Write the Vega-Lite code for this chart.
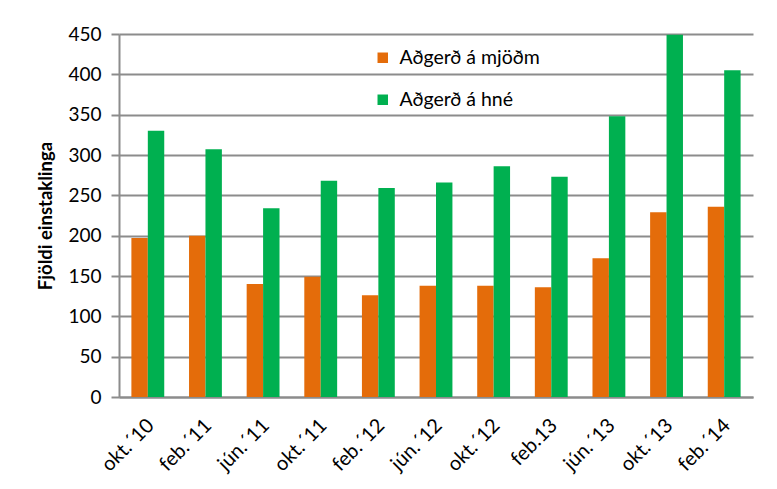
{
  "$schema": "https://vega.github.io/schema/vega-lite/v6.json",
  "width": 634,
  "height": 363,
  "autosize": "none",
  "padding": {"left": 119, "top": 34, "right": 24, "bottom": 92},
  "background": "white",
  "config": {"font": "Lato", "view": {"stroke": null}},
  "data": {
    "values": [
      {"dags": "okt.´10", "flokkur": "Aðgerð á mjöðm", "fjoldi": 197},
      {"dags": "okt.´10", "flokkur": "Aðgerð á hné", "fjoldi": 330},
      {"dags": "feb.´11", "flokkur": "Aðgerð á mjöðm", "fjoldi": 200},
      {"dags": "feb.´11", "flokkur": "Aðgerð á hné", "fjoldi": 307},
      {"dags": "jún.´11", "flokkur": "Aðgerð á mjöðm", "fjoldi": 140},
      {"dags": "jún.´11", "flokkur": "Aðgerð á hné", "fjoldi": 234},
      {"dags": "okt.´11", "flokkur": "Aðgerð á mjöðm", "fjoldi": 149},
      {"dags": "okt.´11", "flokkur": "Aðgerð á hné", "fjoldi": 268},
      {"dags": "feb.´12", "flokkur": "Aðgerð á mjöðm", "fjoldi": 126},
      {"dags": "feb.´12", "flokkur": "Aðgerð á hné", "fjoldi": 259},
      {"dags": "jún.´12", "flokkur": "Aðgerð á mjöðm", "fjoldi": 138},
      {"dags": "jún.´12", "flokkur": "Aðgerð á hné", "fjoldi": 266},
      {"dags": "okt.´12", "flokkur": "Aðgerð á mjöðm", "fjoldi": 138},
      {"dags": "okt.´12", "flokkur": "Aðgerð á hné", "fjoldi": 286},
      {"dags": "feb.13", "flokkur": "Aðgerð á mjöðm", "fjoldi": 136},
      {"dags": "feb.13", "flokkur": "Aðgerð á hné", "fjoldi": 273},
      {"dags": "jún.´13", "flokkur": "Aðgerð á mjöðm", "fjoldi": 172},
      {"dags": "jún.´13", "flokkur": "Aðgerð á hné", "fjoldi": 348},
      {"dags": "okt.´13", "flokkur": "Aðgerð á mjöðm", "fjoldi": 229},
      {"dags": "okt.´13", "flokkur": "Aðgerð á hné", "fjoldi": 449},
      {"dags": "feb.´14", "flokkur": "Aðgerð á mjöðm", "fjoldi": 236},
      {"dags": "feb.´14", "flokkur": "Aðgerð á hné", "fjoldi": 405}
    ]
  },
  "mark": {"type": "bar"},
  "encoding": {
    "x": {
      "field": "dags",
      "type": "nominal",
      "sort": null,
      "scale": {"paddingInner": 0.43, "paddingOuter": 0.215},
      "axis": {
        "title": null,
        "labelAngle": -45,
        "labelAlign": "right",
        "labelBaseline": "top",
        "labelFontSize": 20,
        "labelColor": "#000000",
        "labelPadding": 18,
        "labelOffset": -4,
        "ticks": false,
        "domainColor": "#8c8c8c",
        "domainWidth": 2
      }
    },
    "xOffset": {"field": "flokkur", "type": "nominal", "sort": ["Aðgerð á mjöðm", "Aðgerð á hné"]},
    "y": {
      "field": "fjoldi",
      "type": "quantitative",
      "scale": {"domain": [0, 450], "nice": false},
      "axis": {
        "title": "Fjöldi einstaklinga",
        "titleFontSize": 18.5,
        "titleFontWeight": "bold",
        "titleColor": "#000000",
        "titlePadding": 12,
        "values": [0, 50, 100, 150, 200, 250, 300, 350, 400, 450],
        "labelFontSize": 19,
        "labelColor": "#000000",
        "labelPadding": 10,
        "tickSize": 8,
        "tickColor": "#8c8c8c",
        "tickWidth": 2,
        "domainColor": "#8c8c8c",
        "domainWidth": 2,
        "grid": true,
        "gridColor": "#8c8c8c",
        "gridWidth": 2
      }
    },
    "color": {
      "field": "flokkur",
      "type": "nominal",
      "scale": {"domain": ["Aðgerð á mjöðm", "Aðgerð á hné"], "range": ["#E46C0A", "#00B050"]},
      "legend": {
        "title": null,
        "orient": "none",
        "legendX": 254,
        "legendY": 14,
        "symbolType": "square",
        "symbolSize": 110,
        "symbolStrokeWidth": 0,
        "labelFontSize": 19.5,
        "labelColor": "#000000",
        "labelOffset": 7,
        "rowPadding": 21
      }
    }
  }
}
